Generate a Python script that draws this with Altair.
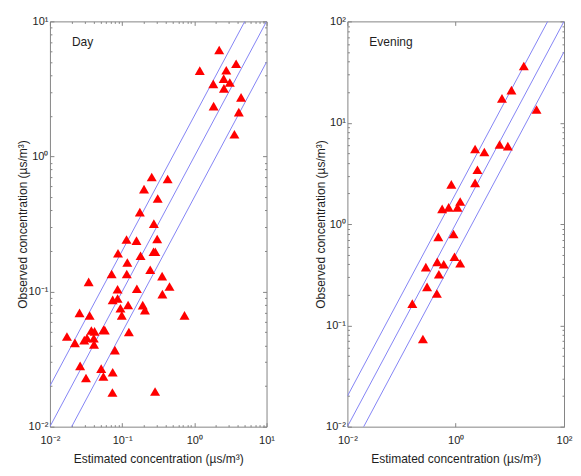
import altair as alt
import pandas as pd

# ---------------- data ----------------
panel_labels = ["Day", "Evening"]

day_est = [2.21, 1.19, 3.79, 2.77, 2.55, 3.10, 1.83, 2.57, 4.44, 1.85, 4.13, 3.59,
           0.257, 0.427, 0.201, 0.311, 0.176, 0.275, 0.115, 0.158, 0.306, 0.0877,
           0.272, 0.288, 0.180, 0.118, 0.245, 0.0716, 0.116, 0.358, 0.0344, 0.453,
           0.0865, 0.160, 0.361, 0.0865, 0.0740, 0.121, 0.193, 0.0948, 0.207, 0.0257,
           0.0989, 0.0355, 0.731, 0.0375, 0.0415, 0.0553, 0.0575, 0.124, 0.0172,
           0.0326, 0.0299, 0.0222, 0.0405, 0.0408, 0.0794, 0.0262, 0.0513, 0.0740,
           0.0550, 0.0316, 0.0734, 0.286]
day_obs = [6.14, 4.32, 4.86, 4.35, 3.77, 3.53, 3.45, 3.19, 2.74, 2.36, 2.13, 1.46,
           0.705, 0.681, 0.573, 0.489, 0.387, 0.318, 0.243, 0.238, 0.245, 0.192,
           0.197, 0.197, 0.184, 0.164, 0.145, 0.135, 0.135, 0.130, 0.118, 0.109,
           0.104, 0.105, 0.0957, 0.0889, 0.0867, 0.0796, 0.0793, 0.0753, 0.0728, 0.0695,
           0.0667, 0.0665, 0.0667, 0.0515, 0.0507, 0.0522, 0.0518, 0.0502, 0.0465,
           0.0453, 0.0437, 0.0417, 0.0451, 0.0407, 0.0369, 0.0282, 0.0269, 0.0253,
           0.0235, 0.0229, 0.0179, 0.0182]

eve_est = [18.1, 10.7, 7.15, 31.1, 2.28, 3.38, 6.47, 9.18, 2.52, 2.28, 0.830, 1.21,
           0.562, 0.741, 1.08, 0.477, 0.912, 0.951, 0.281, 0.457, 0.601, 1.21,
           0.489, 0.296, 0.449, 0.158, 0.248]
eve_obs = [36.3, 21.0, 17.4, 13.5, 5.50, 5.14, 6.10, 5.88, 3.43, 2.55, 2.46, 1.67,
           1.41, 1.46, 1.46, 0.746, 0.798, 0.475, 0.375, 0.423, 0.401, 0.410,
           0.319, 0.240, 0.206, 0.164, 0.0733]

# reference lines: observed = ratio * estimated
ratios = [2.0, 1.0, 0.5]

day_x_domain = [0.01, 10]
day_y_domain = [0.01, 10]
eve_x_domain = [0.01, 100]
eve_y_domain = [0.01, 100]

x_title = "Estimated concentration (µs/m³)"
y_title = "Observed concentration (µs/m³)"

# ---------------- style ----------------
SUP = {-2: "⁻²", -1: "⁻¹", 0: "⁰", 1: "¹", 2: "²"}
FONT = "Liberation Sans"
FRAME = "#858585"
TXT = "#1e1e1e"
LINE = "#8585f5"
W, H = 217, 406
MAJ, MIN = 4, 2


def label_expr(decades):
    expr = "''"
    for d in reversed(decades):
        expr = f"datum.value < {10 ** (d + 0.5)} ? '10{SUP[d]}' : ({expr})"
    return expr


def minors(decades):
    return [k * 10 ** d for d in decades for k in range(2, 10)]


def make_axis(orient, values, size, decades=None, title=None, tx=None, ty=None, lpad=2):
    args = dict(orient=orient, values=values, tickSize=size, offset=-size,
                domain=False, grid=False, tickColor=FRAME, tickWidth=1, title=None)
    if decades:
        args.update(labels=True, labelExpr=label_expr(decades), labelFont=FONT,
                    labelFontSize=11, labelColor=TXT, labelFlush=False,
                    labelOverlap=False, labelPadding=lpad)
    else:
        args.update(labels=False)
    if title:
        args.update(title=title, titleFont=FONT, titleFontSize=12, titleFontWeight="normal",
                    titleColor=TXT, titleAlign="center", titleBaseline="middle")
        if tx is not None:
            args["titleX"] = tx
        if ty is not None:
            args["titleY"] = ty
        if orient == "left":
            args.update(titleAngle=270)
    return alt.Axis(**args)


def panel(est, obs, xdom, ydom, xdec_major, xdec_minor, ydec_major, ydec_minor, name):
    pts = pd.DataFrame({"est": est, "obs": obs})
    rows = []
    for r in ratios:
        for xv in xdom:
            rows.append({"ratio": r, "est": xv, "obs": r * xv})
    lines = pd.DataFrame(rows)
    xs = alt.Scale(type="log", domain=xdom, nice=False)
    ys = alt.Scale(type="log", domain=ydom, nice=False)
    xmaj = [10 ** d for d in xdec_major]
    ymaj = [10 ** d for d in ydec_major]
    xmin = minors(xdec_minor)
    ymin = minors(ydec_minor)

    l1 = alt.Chart(lines).mark_line(clip=True, color=LINE, strokeWidth=1).encode(
        x=alt.X("est:Q", scale=xs,
                axis=make_axis("bottom", xmaj, MAJ, xdec_major, x_title, None, 36, 8)),
        y=alt.Y("obs:Q", scale=ys,
                axis=make_axis("left", ymaj, MAJ, ydec_major, y_title, -31, H / 2, 2)),
        detail="ratio:N",
    )
    l2 = alt.Chart(pts).mark_point(shape="triangle-up", filled=True, size=100,
                                   color="#ff0000", opacity=1, clip=True).encode(
        x=alt.X("est:Q", scale=xs, axis=make_axis("bottom", xmin, MIN)),
        y=alt.Y("obs:Q", scale=ys, axis=make_axis("left", ymin, MIN)),
    )
    l3 = alt.Chart(pts).mark_point(opacity=0).encode(
        x=alt.X("est:Q", scale=xs, axis=make_axis("top", xmaj, MAJ)),
        y=alt.Y("obs:Q", scale=ys, axis=make_axis("right", ymaj, MAJ)),
    )
    l4 = alt.Chart(pts).mark_point(opacity=0).encode(
        x=alt.X("est:Q", scale=xs, axis=make_axis("top", xmin, MIN)),
        y=alt.Y("obs:Q", scale=ys, axis=make_axis("right", ymin, MIN)),
    )
    txt = alt.Chart(pd.DataFrame({"label": [name]})).mark_text(
        align="left", baseline="middle", font=FONT, fontSize=12, color=TXT
    ).encode(x=alt.value(22), y=alt.value(21), text="label:N")

    return alt.layer(l1, l2, l3, l4, txt).resolve_axis(
        x="independent", y="independent").properties(width=W, height=H)


left = panel(day_est, day_obs, day_x_domain, day_y_domain,
             [-2, -1, 0, 1], [-2, -1, 0], [-2, -1, 0, 1], [-2, -1, 0], panel_labels[0])
right = panel(eve_est, eve_obs, eve_x_domain, eve_y_domain,
              [-2, 0, 2], [], [-2, -1, 0, 1, 2], [-2, -1, 0, 1], panel_labels[1])

chart = alt.hconcat(left, right, spacing=81, bounds="flush").properties(
    padding={"left": 8, "top": 6, "right": 0, "bottom": 0},
    background="white",
).configure_view(stroke=FRAME, strokeWidth=1)

chart.save("out.html", embed_options={"renderer": "svg", "actions": False})
